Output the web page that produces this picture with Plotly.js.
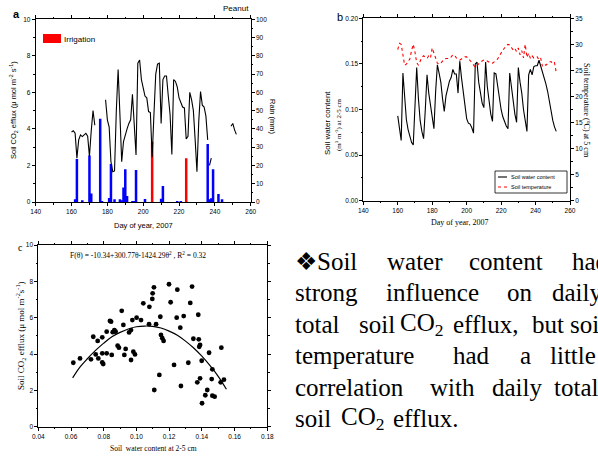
<!DOCTYPE html>
<html><head><meta charset="utf-8">
<script src="https://cdn.plot.ly/plotly-3.0.1.min.js"></script>
<style>html,body{margin:0;padding:0;background:#fff;}#chart{width:598px;height:458px;}</style>
</head><body><div id="chart"></div>
<script>
// ---------- Panel a: soil CO2 efflux & rain ----------
const effluxDays = [160,161,162,163,164,165,166,167,168,169,170,171,172,173,174,
  179,180,181,182,183,184,185,186,187,188,189,190,191,192,193,194,195,196,197,198,199,200,201,202,203,204,205,
  206,207,208,209,210,211,212,213,214,215,216,217,218,219,220,221,222,223,224,225,226,227,228,229,230,231,232,
  233,234,235,236,236.5,237,238,239,249,250,251,252];
const effluxVals = [3.83,3.9,3.76,2.4,3.4,3.67,3.58,3.7,3.76,3.6,2.5,3.9,5.0,4.2,null,
  5.6,4.5,4.1,2.2,1.66,1.7,5.0,7.25,4.8,2.2,3.3,3.7,4.0,4.3,4.5,5.9,4.3,2.57,7.6,7.77,6.7,6.3,5.8,5.7,4.95,4.9,2.45,
  4.8,7.0,7.55,7.6,4.3,6.7,6.9,6.9,5.8,4.8,2.6,6.7,6.6,6.3,5.7,5.4,5.2,5.15,3.45,3.6,6.0,5.6,5.0,3.4,1.66,4.4,6.05,
  5.3,5.2,4.7,3.4,null,2.0,2.4,null,4.15,4.3,3.95,3.7];
const rainDays = [162,163,166,170,171,176,177,181,182,184,187,188,189,190,191,194,195,196,201,210,211,219,221,236,237,238,239,242,244];
const rainVals = [1.5,23.5,1,25.4,4.7,45.6,0.5,2.2,20.8,1.5,1.5,1,8,17.9,3.3,0.5,0.5,17.5,1.6,1.8,8.8,0.6,0.6,31.8,1.5,2,17.9,4.4,1.5];
const irrigDays = [205,224];
const irrigVals = [33,24];

// ---------- Panel b: soil water content & temperature ----------
const dayB = [];
for (let d = 160; d <= 252; d++) dayB.push(d);
const swc = [0.093,0.078,0.066,0.140,0.115,0.089,0.078,0.070,0.064,0.061,0.100,0.146,0.112,0.088,0.076,0.068,0.100,0.138,
  0.118,0.103,0.088,0.079,0.120,0.149,0.140,0.130,0.112,0.098,0.115,0.125,0.131,0.135,0.144,0.139,0.139,0.118,0.153,0.135,
  0.118,0.100,0.090,0.085,0.084,0.080,0.074,0.150,0.152,0.130,0.118,0.107,0.102,0.152,0.125,0.110,0.095,0.087,0.140,0.139,
  0.125,0.110,0.100,0.092,0.086,0.082,0.079,0.140,0.125,0.108,0.095,0.086,0.146,0.130,0.118,0.100,0.085,0.076,0.138,0.144,
  0.138,0.147,0.148,0.148,0.154,0.148,0.141,0.136,0.128,0.120,0.108,0.097,0.088,0.081,0.076];
const soilTemp = [29.0,30.2,30.0,28.0,26.0,26.2,26.6,27.2,28.8,30.0,28.5,26.5,26.0,26.9,27.5,27.8,27.6,27.3,27.8,27.4,29.3,
  28.3,27.3,26.4,26.2,26.4,26.8,27.2,27.3,27.3,27.3,27.6,28.0,27.9,27.4,27.2,27.0,27.2,27.4,27.6,27.6,27.3,26.9,26.5,25.9,
  25.6,25.9,26.3,26.6,26.8,27.0,27.0,26.8,26.6,26.4,26.4,26.6,26.9,27.2,27.8,28.3,28.9,29.3,29.8,30.0,29.9,29.4,28.9,29.2,
  28.6,29.3,28.0,28.8,27.4,30.0,27.5,28.3,27.3,27.8,27.4,27.6,27.6,27.0,27.3,25.8,26.2,26.0,26.4,26.6,26.7,26.3,26.5,24.6];

// ---------- Panel c: efflux vs soil water content ----------
const theta = [0.0614,0.0655,0.0722,0.0736,0.0763,0.0751,0.0767,0.0791,0.0791,0.0797,0.0818,0.0849,0.0791,0.0818,0.0838,0.0845,
  0.0865,0.0873,0.0855,0.0885,0.0893,0.0910,0.0920,0.0926,0.0934,0.0955,0.0967,0.0967,0.0981,0.0991,0.0975,0.1001,0.1028,
  0.1042,0.1079,0.1077,0.1097,0.1099,0.1107,0.1120,0.1146,0.1150,0.1158,0.1166,0.1140,0.1109,0.1199,0.1250,0.1340,0.1209,
  0.1329,0.1246,0.1289,0.1378,0.1268,0.1348,0.1381,0.1389,0.1384,0.1444,0.1519,0.1399,0.1230,0.1317,0.1464,0.1272,0.1389,
  0.1372,0.1460,0.1433,0.1421,0.1464,0.1478,0.1401,0.1515,0.1535];
const fluxC = [3.52,3.76,3.71,4.95,4.72,3.98,3.76,4.92,3.54,3.45,4.04,3.95,4.04,5.23,5.82,5.78,5.32,5.23,5.2,4.46,4.35,6.38,
  5.6,3.95,4.28,5.19,5.32,3.67,4.13,3.98,5.87,6.0,5.87,6.79,6.6,5.64,7.03,7.34,7.67,5.64,6.05,5.05,4.87,4.72,2.85,2.02,
  7.84,7.54,7.71,6.85,6.81,6.0,6.09,6.16,5.45,4.84,4.81,4.5,4.4,4.07,4.35,3.63,3.4,3.52,3.16,2.24,2.66,2.44,2.62,2.02,
  1.73,1.71,1.65,1.29,2.44,2.59];
const fitTheta = [0.061,0.065,0.07,0.075,0.08,0.085,0.09,0.095,0.10,0.105,0.11,0.115,0.12,0.125,0.13,0.135,0.14,0.145,0.15,0.155];
const fitFlux  = [2.69,3.23,3.74,4.20,4.60,4.95,5.19,5.38,5.50,5.54,5.52,5.43,5.26,5.03,4.71,4.33,3.88,3.36,2.77,2.06];

// ---------- helpers ----------
const W = 598, H = 458;
const px = v => v / W, py = v => 1 - v / H;
const ARIAL = '"Liberation Sans", Arial, sans-serif';
const TIMES = '"Liberation Serif", "Times New Roman", Times, serif';

function ax(extra) {
  return Object.assign({
    showline: true, linecolor: '#000', linewidth: 1, showgrid: false, zeroline: false,
    ticks: 'outside', ticklen: 3, tickwidth: 1, tickcolor: '#000',
    tickfont: {family: ARIAL, size: 6.5, color: '#000'}, fixedrange: true
  }, extra);
}

const traces = [
  {type: 'bar', x: rainDays, y: rainVals, xaxis: 'x', yaxis: 'y', width: 1.4,
   marker: {color: '#0000ff', line: {width: 0}}},
  {type: 'bar', x: irrigDays, y: irrigVals, xaxis: 'x', yaxis: 'y', width: 1.4,
   marker: {color: '#ff0000', line: {width: 0}}},
  {type: 'scatter', mode: 'lines', x: effluxDays, y: effluxVals, xaxis: 'x', yaxis: 'y2',
   line: {color: '#000', width: 1.1}, connectgaps: false},
  {type: 'scatter', mode: 'lines', x: dayB, y: swc, xaxis: 'x2', yaxis: 'y3',
   line: {color: '#000', width: 1.1}},
  {type: 'scatter', mode: 'lines', x: dayB, y: soilTemp, xaxis: 'x2', yaxis: 'y4',
   line: {color: '#ff0000', width: 1.1, dash: 'dot'}},
  {type: 'scatter', mode: 'markers', x: theta, y: fluxC, xaxis: 'x3', yaxis: 'y5',
   marker: {color: '#000', size: 4.8}},
  {type: 'scatter', mode: 'lines', x: fitTheta, y: fitFlux, xaxis: 'x3', yaxis: 'y5',
   line: {color: '#000', width: 1.2, shape: 'spline'}}
];

const annotations = [];
function ann(text, x, y, o) {
  annotations.push(Object.assign({text: text, x: px(x), y: py(y), xref: 'paper', yref: 'paper',
    showarrow: false, xanchor: 'center', yanchor: 'middle',
    font: {family: ARIAL, size: 7.5, color: '#000'}}, o || {}));
}
// panel a
ann('<b>a</b>', 16, 14, {font: {family: ARIAL, size: 11, color: '#000'}});
ann('Peanut', 236, 9, {font: {family: ARIAL, size: 8, color: '#000'}});
ann('Irrigation', 62, 39, {xanchor: 'left', font: {family: ARIAL, size: 8, color: '#000'}});
ann('Soil CO<sub>2</sub> efflux (μ mol m<sup>-2</sup> s<sup>-1</sup>)', 13, 110, {textangle: -90});
ann('Rain (mm)', 273, 117, {textangle: 90});
ann('Day of year, 2007', 143, 226);
// panel b
ann('b', 340, 17, {font: {family: ARIAL, size: 11, color: '#000'}});
ann('Soil water content', 327, 123, {textangle: -90, font: {family: ARIAL, size: 8, color: '#000'}});
ann('(m<sup>3</sup> m<sup>-3</sup>) at 2-5 cm', 338, 125, {textangle: -90, font: {family: TIMES, size: 7, color: '#000'}});
ann('Soil temperature (<sup>o</sup>C) at 5 cm', 587, 110, {textangle: 90, font: {family: TIMES, size: 8, color: '#000'}});
ann('Day of year, 2007', 459, 222, {font: {family: TIMES, size: 8, color: '#000'}});
ann('Soil water content', 509, 177, {xanchor: 'left', font: {family: ARIAL, size: 5.5, color: '#000'}});
ann('Soil temperature', 509, 187, {xanchor: 'left', font: {family: ARIAL, size: 5.5, color: '#000'}});
// panel c
ann('c', 20, 247, {font: {family: TIMES, size: 10, color: '#000'}});
ann('F(θ) = -10.34+300.77θ-1424.29θ<sup>2</sup> , R<sup>2</sup> = 0.32', 138, 255, {font: {family: TIMES, size: 7.5, color: '#000'}});
ann('Soil CO<sub>2</sub> efflux (μ mol m<sup>-2</sup>s<sup>-1</sup>)', 20, 336, {textangle: -90, font: {family: TIMES, size: 9, color: '#000'}});
ann('Soil  water content at 2-5 cm', 153, 448, {font: {family: TIMES, size: 7.5, color: '#000'}});

// right-hand text block (justified: words placed individually)
const textLines = [
  ['❖Soil', 'water', 'content', 'had'],
  ['strong', 'influence', 'on', 'daily'],
  ['total', 'soil', 'CO<sub>2</sub>', 'efflux,', 'but', 'soil'],
  ['temperature', 'had', 'a', 'little'],
  ['correlation', 'with', 'daily', 'total'],
  ['soil', 'CO<sub>2</sub>', 'efflux.']
];
const wordX = [
  [293, 385, 467, 570],
  [293, 384, 505, 550],
  [293, 357, 398, 451, 530, 568],
  [293, 451, 518, 548],
  [293, 428, 490, 552],
  [293, 339, 391]
];
const lineY = [261, 292.5, 324, 355.5, 387, 418.5];
textLines.forEach((words, i) => {
  words.forEach((w, j) => {
    ann(w, wordX[i][j], lineY[i], {xanchor: 'left', font: {family: TIMES, size: 25, color: '#000'}});
  });
});

const shapes = [
  {type: 'rect', xref: 'paper', yref: 'paper', x0: px(43), x1: px(61), y0: py(43), y1: py(34),
   fillcolor: '#ff0000', line: {width: 0}},
  {type: 'rect', xref: 'paper', yref: 'paper', x0: px(495), x1: px(567), y0: py(193), y1: py(171),
   fillcolor: 'rgba(0,0,0,0)', line: {color: '#000', width: 0.8}},
  {type: 'line', xref: 'paper', yref: 'paper', x0: px(498), x1: px(507), y0: py(177), y1: py(177),
   line: {color: '#000', width: 1.1}},
  {type: 'line', xref: 'paper', yref: 'paper', x0: px(498), x1: px(507), y0: py(187), y1: py(187),
   line: {color: '#ff0000', width: 1.1, dash: 'dot'}}
];

const layout = {
  width: W, height: H, margin: {l: 0, r: 0, t: 0, b: 0, pad: 0},
  paper_bgcolor: '#fff', plot_bgcolor: 'rgba(0,0,0,0)', showlegend: false, barmode: 'overlay',
  font: {family: ARIAL, size: 7, color: '#000'},
  // panel a
  xaxis: ax({domain: [px(35.7), px(250.7)], range: [140, 260], dtick: 20, tick0: 140, anchor: 'y', mirror: 'ticks',
    minor: {ticks: 'outside', ticklen: 1.5, dtick: 10, tickcolor: '#000'}}),
  yaxis: ax({domain: [py(202), py(19.3)], range: [0, 100], dtick: 10, side: 'right', anchor: 'x',
    minor: {ticks: 'outside', ticklen: 1.5, dtick: 5, tickcolor: '#000'}}),
  yaxis2: ax({range: [0, 10], dtick: 2, side: 'left', overlaying: 'y', anchor: 'x',
    minor: {ticks: 'outside', ticklen: 1.5, dtick: 1, tickcolor: '#000'}}),
  // panel b
  xaxis2: ax({domain: [px(363.3), px(570)], range: [140, 260], dtick: 20, tick0: 140, anchor: 'y3', mirror: 'ticks',
    minor: {ticks: 'outside', ticklen: 1.5, dtick: 10, tickcolor: '#000'}}),
  yaxis3: ax({domain: [py(200.7), py(18.3)], range: [0, 0.2], dtick: 0.05, tickformat: '.2f', side: 'left', anchor: 'x2',
    minor: {ticks: 'outside', ticklen: 1.5, dtick: 0.025, tickcolor: '#000'}}),
  yaxis4: ax({range: [0, 35], dtick: 5, side: 'right', overlaying: 'y3', anchor: 'x2',
    minor: {ticks: 'outside', ticklen: 1.5, dtick: 2.5, tickcolor: '#000'}}),
  // panel c
  xaxis3: ax({domain: [px(38.3), px(267.3)], range: [0.04, 0.18], dtick: 0.02, tick0: 0.04, tickformat: '.2f',
    anchor: 'y5', mirror: 'ticks',
    minor: {ticks: 'outside', ticklen: 1.5, dtick: 0.01, tickcolor: '#000'}}),
  yaxis5: ax({domain: [py(426.7), py(245)], range: [0, 10], dtick: 2, anchor: 'x3', mirror: 'ticks',
    minor: {ticks: 'outside', ticklen: 1.5, dtick: 1, tickcolor: '#000'}}),
  annotations: annotations,
  shapes: shapes
};

Plotly.newPlot('chart', traces, layout, {staticPlot: true, displayModeBar: false});
</script>
</body></html>
